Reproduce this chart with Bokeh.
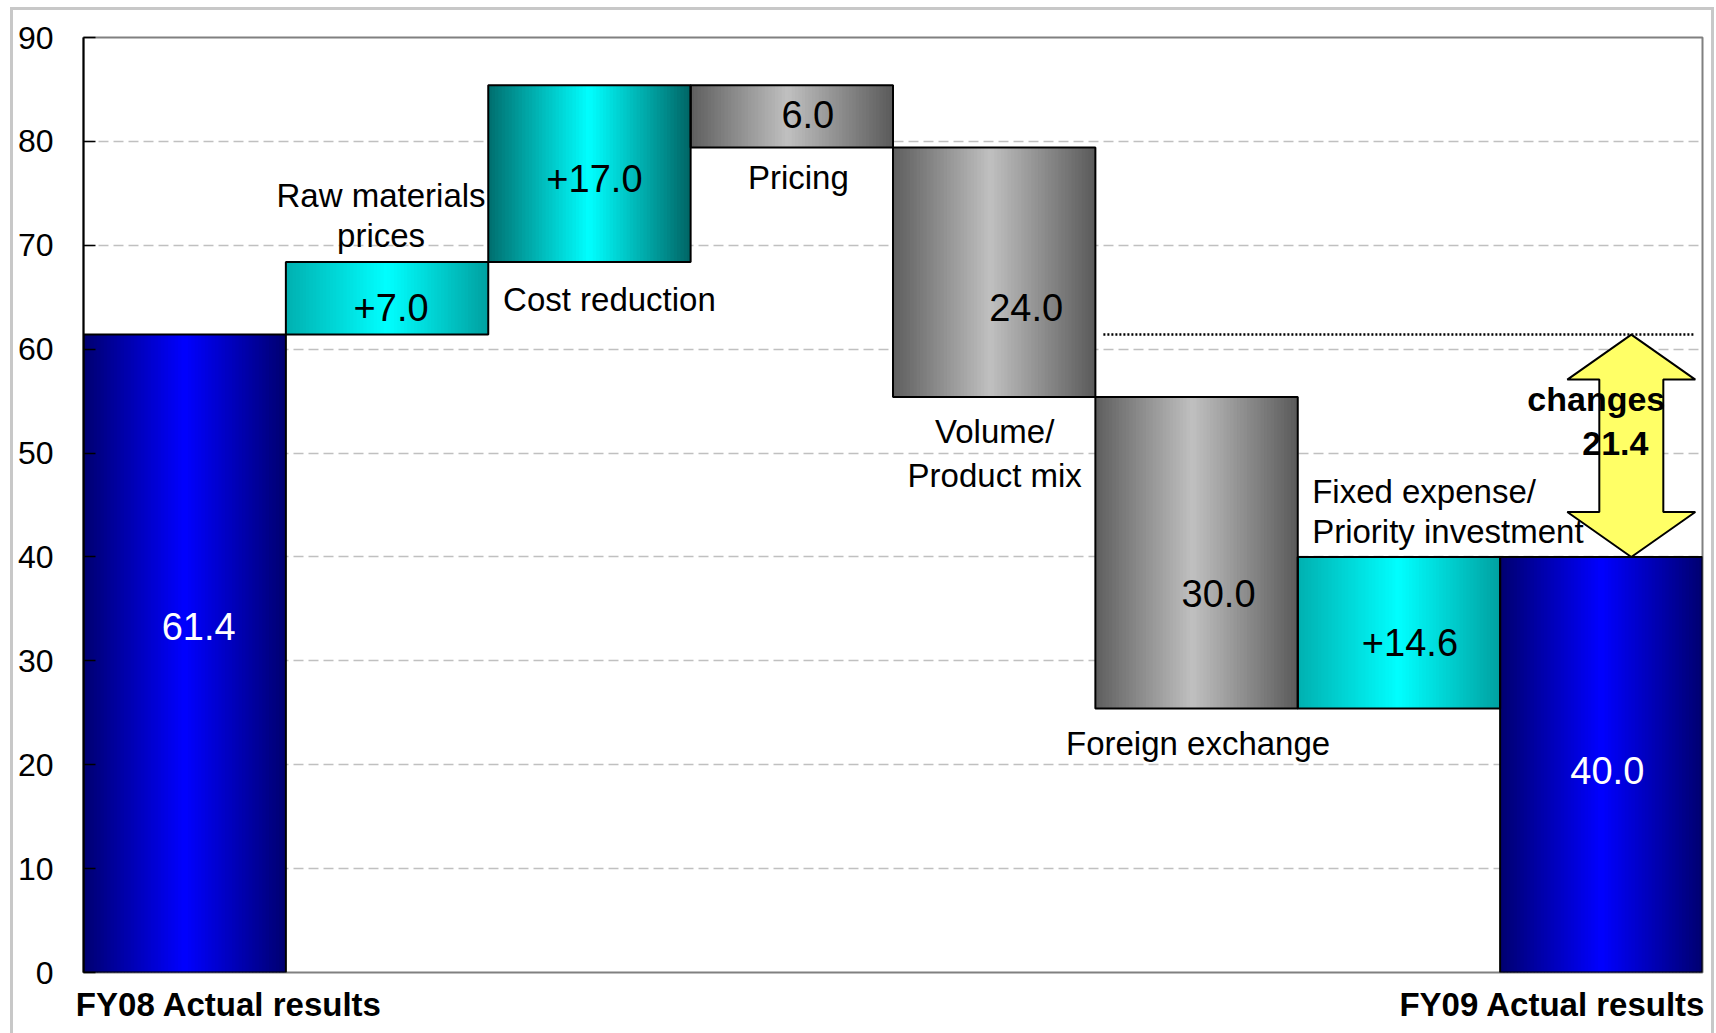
from bokeh.plotting import figure
from bokeh.models import Range1d, LinearAxis, ColumnDataSource, FixedTicker
from bokeh.embed import file_html
from bokeh.resources import INLINE
from bokeh.core.properties import value

# ---------------- data ----------------
categories = ["FY08 Actual results", "Raw materials\nprices", "Cost reduction", "Pricing",
              "Volume/\nProduct mix", "Foreign exchange",
              "Fixed expense/\nPriority investment", "FY09 Actual results"]
start_value = 61.4
deltas = [7.0, 17.0, -6.0, -24.0, -30.0, 14.6]
end_value = 40.0
y_ticks = [0, 10, 20, 30, 40, 50, 60, 70, 80, 90]
change_caption = "changes"

# ---------------- layout / style ----------------
W, H = 1716, 1033
FL, FT, FR, FB = 83, 37, 14, 61
FW, FH = W - FL - FR, H - FT - FB
NX = len(categories)
YMAX = 90
PXX = NX / FW      # data units per pixel (x)
PXY = YMAX / FH    # data units per pixel (y)
FONT = "Liberation Sans"

BLUE = [(0.0, (0, 0, 0x70)), (0.5, (0, 0, 0xFF)), (1.0, (0, 0, 0x70))]
CYAN_A = [(0.0, (0, 0xB0, 0xB0)), (0.5, (0, 0xFF, 0xFF)), (1.0, (0, 0xA0, 0xA0))]
CYAN_B = [(0.0, (0, 0x6E, 0x6E)), (0.5, (0, 0xFF, 0xFF)), (1.0, (0, 0x64, 0x64))]
GRAY = [(0.0, (0x5E, 0x5E, 0x5E)), (0.48, (0xC0, 0xC0, 0xC0)), (1.0, (0x5A, 0x5A, 0x5A))]
bar_gradients = [BLUE, CYAN_A, CYAN_B, GRAY, GRAY, GRAY, CYAN_A, BLUE]

# value-label offsets from bar centre (px, screen: +y is down)
value_offsets = [(14, -27), (4, 9), (5, 5), (16, -2), (32, 35), (22, 41), (11, 10), (6, 6)]
value_colors = ["white", "black", "black", "black", "black", "black", "black", "white"]


def grad(stops, t):
    for (t0, c0), (t1, c1) in zip(stops[:-1], stops[1:]):
        if t0 <= t <= t1:
            f = (t - t0) / (t1 - t0)
            c = [round(a + (b - a) * f) for a, b in zip(c0, c1)]
            return "#%02x%02x%02x" % tuple(c)
    return "#%02x%02x%02x" % stops[-1][1]


# ---------------- waterfall geometry ----------------
bottoms, tops = [0.0], [start_value]
cum = start_value
for d in deltas:
    b = cum
    cum = round(cum + d, 6)
    bottoms.append(min(b, cum))
    tops.append(max(b, cum))
bottoms.append(0.0)
tops.append(end_value)

labels = [f"{start_value:.1f}"] + [(f"+{d:.1f}" if d > 0 else f"{abs(d):.1f}") for d in deltas] + [f"{end_value:.1f}"]

p = figure(width=W, height=H, output_backend="svg", toolbar_location=None,
           x_range=Range1d(0, NX), y_range=Range1d(0, YMAX), x_axis_type=None,
           min_border_left=FL, min_border_top=FT, min_border_right=FR, min_border_bottom=FB)
p.background_fill_color = "white"
p.border_fill_color = None
p.outline_line_color = "#808080"
p.outline_line_width = 2
line_css = "linear-gradient(#C8C8C8,#C8C8C8)"
p.styles = {"background": (f"{line_css} 10px 7px / 3px 1100px no-repeat, "
                           f"{line_css} 10px 7px / 1704px 3px no-repeat, "
                           f"{line_css} 1711px 7px / 3px 1100px no-repeat, white")}

# y axis
p.yaxis.ticker = FixedTicker(ticks=y_ticks)
p.yaxis.major_tick_in = 12
p.yaxis.major_tick_out = 0
p.yaxis.minor_tick_line_color = None
p.yaxis.major_tick_line_color = "black"
p.yaxis.major_tick_line_width = 1.5
p.yaxis.axis_line_color = "black"
p.yaxis.axis_line_width = 2
p.yaxis.major_label_text_font = FONT
p.yaxis.major_label_text_font_size = "32px"
p.yaxis.major_label_text_color = "black"
p.yaxis.major_label_standoff = 30
p.ygrid.grid_line_color = "#C0C0C0"
p.ygrid.grid_line_dash = "10 5"
p.ygrid.grid_line_width = 1.5

# x axis carrying only the two total-bar captions
fy08_pos = round(0 + (228.5 - FL) * PXX, 3)
fy09_pos = round(NX - (FL + FW - 1552) * PXX, 3)
xax = LinearAxis(ticker=FixedTicker(ticks=[fy08_pos, fy09_pos]),
                 major_label_overrides={fy08_pos: categories[0], fy09_pos: categories[-1]},
                 axis_line_color=None, major_tick_line_color=None, minor_tick_line_color=None,
                 major_label_text_font=FONT, major_label_text_font_size="33px",
                 major_label_text_font_style="bold", major_label_text_color="black",
                 major_label_standoff=7)
p.add_layout(xax, "below")

# gradient stripes
N = 60
sl, sr, sb, st, sc = [], [], [], [], []
for i in range(NX):
    for k in range(N):
        t = (k + 0.5) / N
        sl.append(i + k / N)
        sr.append(i + min(k + 1.3, N) / N)
        sb.append(bottoms[i])
        st.append(tops[i])
        sc.append(grad(bar_gradients[i], t))
p.quad(left="l", right="r", bottom="b", top="t", fill_color="c", line_color=None,
       source=ColumnDataSource(dict(l=sl, r=sr, b=sb, t=st, c=sc)))

# bar outlines
xs = list(range(NX))
p.quad(left=xs, right=[x + 1 for x in xs], bottom=bottoms, top=tops,
       fill_color=None, line_color="black", line_width=2)

# value labels
vx = [i + 0.5 + value_offsets[i][0] * PXX for i in range(NX)]
vy = [(bottoms[i] + tops[i]) / 2 - value_offsets[i][1] * PXY for i in range(NX)]
p.text(x="x", y="y", text="t", text_color="c",
       source=ColumnDataSource(dict(x=vx, y=vy, t=labels, c=value_colors)),
       text_font=value(FONT), text_font_size="38px", text_align="center", text_baseline="middle")

# category labels (inside frame): centre-line px offsets from bar top/bottom
cat_specs = [
    (1, "top", "center", -6, [-66.4, -26.4]),
    (2, "bottom", "center", 20, [37.6]),
    (3, "bottom", "center", 6.5, [30]),
    (4, "bottom", "center", 0.5, [34.6, 78.6]),
    (5, "bottom", "center", 1.5, [35]),
    (6, "top", "left", 14.4, [-65.4, -25.4]),
]
for align in ("center", "left"):
    cx, cy, ct = [], [], []
    for idx, anchor, al, dx, offs in cat_specs:
        if al != align:
            continue
        base_y = tops[idx] if anchor == "top" else bottoms[idx]
        base_x = idx + 0.5 if al == "center" else idx
        for line, off in zip(categories[idx].split("\n"), offs):
            cx.append(base_x + dx * PXX)
            cy.append(base_y - off * PXY)
            ct.append(line)
    p.text(x=cx, y=cy, text=ct, text_font=value(FONT), text_font_size="33px",
           text_color="black", text_align=align, text_baseline="middle")

# reference dotted line at starting level
p.line(x=[5 + 8 * PXX, NX - 8 * PXX], y=[start_value, start_value], line_color="black",
       line_width=2.5, line_dash="2 2")

# double-headed arrow
ax = NX - 1 + 0.5 + 30 * PXX
hw, sw = 64 * PXX, 32 * PXX
hl = 45 * PXY
top_v, bot_v = start_value, end_value
arr_x = [ax, ax + hw, ax + sw, ax + sw, ax + hw, ax, ax - hw, ax - sw, ax - sw, ax - hw, ax]
arr_y = [top_v, top_v - hl, top_v - hl, bot_v + hl, bot_v + hl, bot_v, bot_v + hl, bot_v + hl,
         top_v - hl, top_v - hl, top_v]
p.patch(x=arr_x, y=arr_y, fill_color="#FFFF66", line_color="black", line_width=2)

diff = round(start_value - end_value, 1)
p.text(x=[NX - 0.5 - 5 * PXX, NX - 0.5 + 14 * PXX],
       y=[start_value - 64 * PXY, start_value - 109 * PXY],
       text=[change_caption, f"{diff:.1f}"], text_font=value(FONT), text_font_size="34px",
       text_font_style="bold", text_color="black", text_align="center", text_baseline="middle")

open("out.html", "w").write(file_html(p, INLINE))
